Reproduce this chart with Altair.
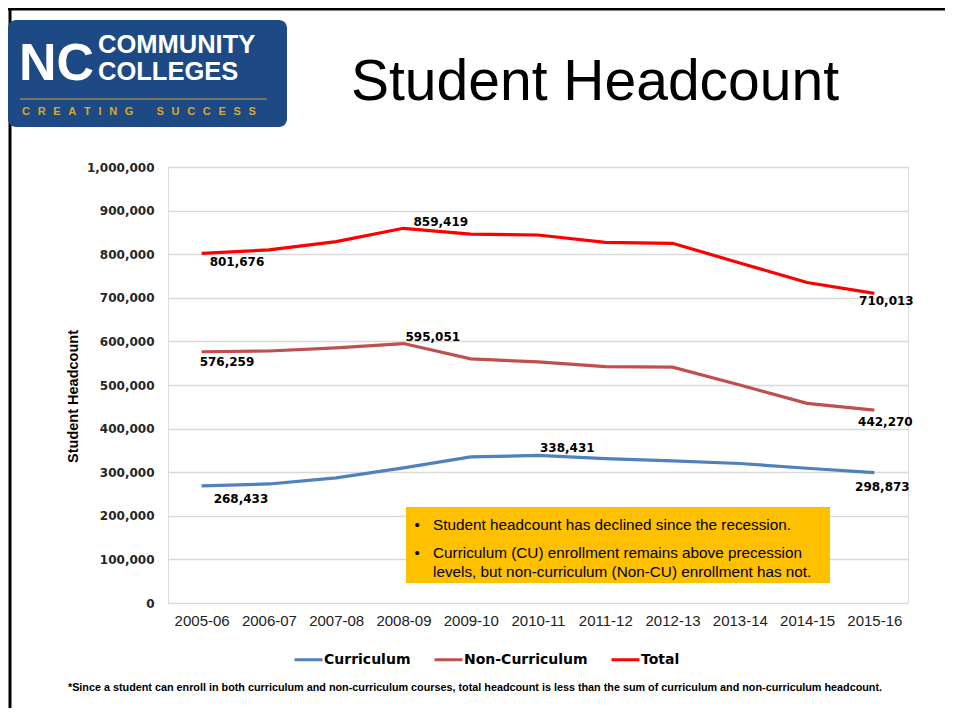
import altair as alt
import pandas as pd

# ---------------- data ----------------
years = ["2005-06", "2006-07", "2007-08", "2008-09", "2009-10", "2010-11",
         "2011-12", "2012-13", "2013-14", "2014-15", "2015-16"]
curriculum = [268433, 273000, 287000, 310000, 335000, 338431,
              331000, 326000, 320000, 309000, 298873]
non_curriculum = [576259, 578000, 585000, 595051, 560000, 553000,
                  542000, 541000, 500000, 458000, 442270]
total = [801676, 810000, 829000, 859419, 846000, 844000,
         827000, 825000, 780000, 735000, 710013]
series_names = ["Curriculum", "Non-Curriculum", "Total"]
series_colors = ["#4F81BD", "#C0504D", "#FF0000"]
y_ticks = list(range(0, 1000001, 100000))

title_text = "Student Headcount"
y_title = "Student Headcount"
bullets = ["Student headcount has declined since the recession.",
           "Curriculum (CU) enrollment remains above precession",
           "levels, but non-curriculum (Non-CU) enrollment has not."]
footnote = ("*Since a student can enroll in both curriculum and non-curriculum courses, "
            "total headcount is less than the sum of curriculum and non-curriculum headcount.")

# ---------------- tables ----------------
values = {"Curriculum": curriculum, "Non-Curriculum": non_curriculum, "Total": total}
rows = []
for s in series_names:
    for y, v in zip(years, values[s]):
        rows.append({"year": y, "series": s, "value": v})
df = pd.DataFrame(rows)

# labelled points: first, peak, last of each series
lab_rows = []
for s in series_names:
    vals = values[s]
    peak = vals.index(max(vals))
    for kind, i in (("first", 0), ("peak", peak), ("last", len(vals) - 1)):
        lab_rows.append({"year": years[i], "series": s, "value": vals[i],
                         "kind": kind, "label": f"{vals[i]:,}"})
labels = pd.DataFrame(lab_rows)

W, H = 740, 436

x_enc = alt.X("year:N", sort=years, scale=alt.Scale(type="point", padding=0.5),
              axis=alt.Axis(title=None, labelAngle=0, domain=False, ticks=False, tickSize=0,
                            grid=False, labelPadding=10, labelFont="Liberation Sans",
                            labelFontSize=15, labelColor="#222222"))
y_enc = alt.Y("value:Q", scale=alt.Scale(domain=[0, 1000000], nice=False),
              axis=alt.Axis(values=y_ticks, format=",d", grid=True, gridColor="#D9D9D9",
                            gridWidth=1.3, domain=False, ticks=False, tickSize=0,
                            labelPadding=14, labelFont="DejaVu Sans", labelFontWeight="bold",
                            labelFontSize=12, labelColor="#262626",
                            title=y_title, titleFont="Liberation Sans",
                            titleFontSize=14.5, titleFontWeight="bold", titleColor="#000000",
                            titleAngle=270, titleX=-95, titleY=229, titleAlign="center",
                            titleBaseline="middle"))
color_enc = alt.Color("series:N", scale=alt.Scale(domain=series_names, range=series_colors),
                      legend=alt.Legend(orient="none", legendX=125, legendY=477,
                                        direction="horizontal", title=None,
                                        symbolType="stroke", symbolSize=784,
                                        symbolStrokeWidth=3, labelFont="DejaVu Sans",
                                        labelFontWeight="bold", labelFontSize=14,
                                        labelColor="#000000", labelOffset=0,
                                        columnPadding=17, padding=0))

lines = alt.Chart(df).mark_line(strokeWidth=3.2).encode(x=x_enc, y=y_enc, color=color_enc)

# label offsets (style)
offsets = {
    ("Total", "first"): ("left", 8, 9),
    ("Non-Curriculum", "first"): ("left", -2, 10),
    ("Curriculum", "first"): ("left", 12, 13),
    ("Total", "peak"): ("left", 10, -6),
    ("Non-Curriculum", "peak"): ("left", 2, -7),
    ("Curriculum", "peak"): ("left", 2, -7),
    ("Total", "last"): ("center", 12, 8),
    ("Non-Curriculum", "last"): ("center", 11, 12),
    ("Curriculum", "last"): ("center", 8, 14),
}
label_layers = []
for (s, kind), (al, dx, dy) in offsets.items():
    label_layers.append(
        alt.Chart(labels).transform_filter(
            (alt.datum.series == s) & (alt.datum.kind == kind)
        ).mark_text(align=al, baseline="middle", dx=dx, dy=dy, font="DejaVu Sans",
                    fontWeight="bold", fontSize=12, color="#000000").encode(
            x=alt.X("year:N", sort=years), y="value:Q", text="label:N")
    )

one = pd.DataFrame({"a": [0]})

def deco_text(txt, x, y, **kw):
    return alt.Chart(pd.DataFrame({"t": [txt]})).mark_text(**kw).encode(
        x=alt.value(x), y=alt.value(y), text="t:N")

# border (top & left)
border_top = alt.Chart(one).mark_rule(color="#000000", strokeWidth=3).encode(
    x=alt.value(-160), x2=alt.value(W + 40), y=alt.value(-158))
border_left = alt.Chart(one).mark_rule(color="#000000", strokeWidth=3).encode(
    x=alt.value(-158), y=alt.value(-160), y2=alt.value(H + 120))

# logo
logo_bg = alt.Chart(one).mark_rect(color="#1D4A85", cornerRadius=8).encode(
    x=alt.value(-160), x2=alt.value(119), y=alt.value(-147), y2=alt.value(-40))
logo_nc = deco_text("NC", -149, -87, font="Liberation Sans", fontWeight="bold",
                    fontSize=52, color="#FFFFFF", align="left", baseline="alphabetic")
logo_c1 = deco_text("COMMUNITY", -70, -114, font="Liberation Sans", fontWeight="bold",
                    fontSize=25.5, color="#FFFFFF", align="left", baseline="alphabetic")
logo_c2 = deco_text("COLLEGES", -70, -87, font="Liberation Sans", fontWeight="bold",
                    fontSize=25.5, color="#FFFFFF", align="left", baseline="alphabetic")
logo_line = alt.Chart(one).mark_rule(color="#C9A13B", strokeWidth=1).encode(
    x=alt.value(-148), x2=alt.value(99), y=alt.value(-68))
tag = "\u2002\u2009".join("CREATING") + "\u2002\u2009\u2002\u2009\u2002\u2009" + "\u2002\u2009".join("SUCCESS")
logo_tag = deco_text(tag, -146, -52, font="Liberation Sans", fontWeight="bold",
                     fontSize=11, color="#D9A72A", align="left", baseline="alphabetic")

# title
title = deco_text(title_text, 427, -67, font="Liberation Sans", fontSize=57,
                  color="#000000", align="center", baseline="alphabetic")

# annotation box
box = alt.Chart(one).mark_rect(color="#FFC000").encode(
    x=alt.value(238), x2=alt.value(662), y=alt.value(340), y2=alt.value(416))
box_layers = [box]
for txt, yy in zip(bullets, [363, 391, 410]):
    box_layers.append(deco_text(txt, 265, yy, font="Liberation Sans", fontSize=15.3,
                                color="#000000", align="left", baseline="alphabetic"))
for yy in [363, 391]:
    box_layers.append(deco_text("\u2022", 249, yy, font="Liberation Sans", fontSize=15,
                                color="#000000", align="center", baseline="alphabetic"))

foot = deco_text(footnote, 307, 524, font="Liberation Sans", fontWeight="bold",
                 fontSize=10.8, color="#000000", align="center", baseline="alphabetic")

chart = alt.layer(
    lines, *label_layers, border_top, border_left, logo_bg, logo_nc, logo_c1, logo_c2,
    logo_line, logo_tag, title, *box_layers, foot
).properties(
    width=W, height=H,
    padding={"left": 160, "top": 159, "right": 37, "bottom": 105},
    autosize=alt.AutoSizeParams(type="none"),
).configure_view(stroke=None).configure(background="#FFFFFF")

chart.save("out.html", embed_options={"renderer": "svg", "actions": False})
